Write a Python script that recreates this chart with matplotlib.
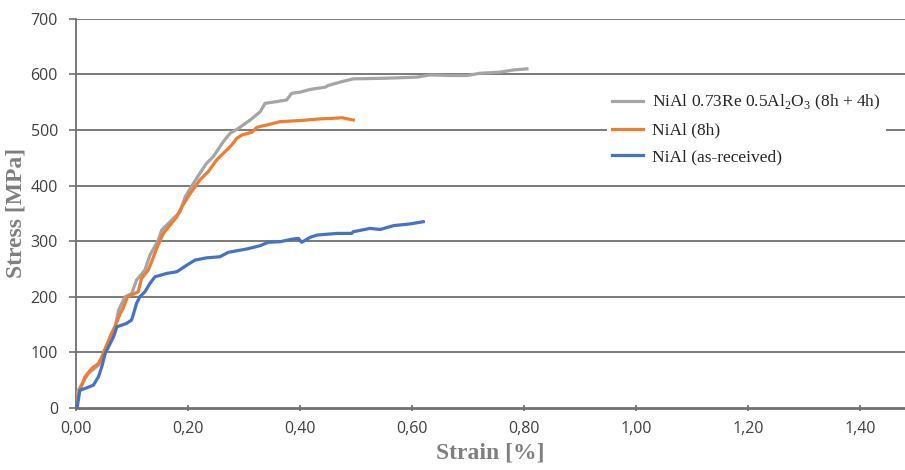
import matplotlib
matplotlib.use("Agg")
import matplotlib.pyplot as plt

# strain [%] / stress [MPa]
re_strain = [0.0, 0.001, 0.022, 0.040, 0.049, 0.061, 0.070, 0.076, 0.0875, 0.0995, 0.108,
             0.123, 0.132, 0.147, 0.153, 0.168, 0.186, 0.195, 0.204, 0.221, 0.233,
             0.245, 0.263, 0.275, 0.290, 0.311, 0.329, 0.3375, 0.358, 0.376, 0.385,
             0.400, 0.418, 0.445, 0.450, 0.471, 0.495, 0.549, 0.608, 0.632, 0.668,
             0.698, 0.721, 0.757, 0.781, 0.805]
re_stress = [18, 27, 62, 77, 92, 128, 146, 176, 200, 206, 230,
             248, 275, 302, 320, 335, 353, 380, 395, 422, 440,
             452, 479, 494, 503, 518, 533, 548, 551, 554, 566,
             568, 573, 577, 580, 586, 592, 593, 595, 599, 598,
             598, 602, 604, 608, 610]

h8_strain = [0.001, 0.007, 0.016, 0.028, 0.040, 0.046, 0.052, 0.061, 0.073, 0.079, 0.084,
             0.092, 0.111, 0.117, 0.129, 0.135, 0.144, 0.156, 0.168, 0.180, 0.189,
             0.204, 0.221, 0.236, 0.251, 0.263, 0.278, 0.287, 0.296, 0.314, 0.323,
             0.341, 0.364, 0.400, 0.436, 0.459, 0.475, 0.495]
h8_stress = [14, 32, 56, 71, 80, 92, 107, 128, 155, 170, 179,
             200, 209, 233, 248, 263, 287, 314, 329, 344, 362,
             386, 410, 425, 446, 458, 473, 485, 491, 496, 505,
             509, 515, 517, 520, 521, 522, 518]

ar_strain = [0.002, 0.004, 0.007, 0.016, 0.031, 0.040, 0.046, 0.052, 0.061, 0.067, 0.073,
             0.090, 0.099, 0.102, 0.108, 0.114, 0.123, 0.132, 0.141, 0.162, 0.180,
             0.198, 0.2125, 0.233, 0.257, 0.272, 0.305, 0.329, 0.343, 0.364, 0.388,
             0.397, 0.403, 0.418, 0.430, 0.466, 0.492, 0.495, 0.525, 0.543, 0.567,
             0.596, 0.620]
ar_stress = [0, 14, 32, 35, 41, 56, 74, 98, 116, 128, 146,
             152, 158, 167, 188, 200, 209, 224, 236, 242, 245,
             257, 266, 270, 272, 280, 286, 292, 298, 299, 304,
             305, 298, 307, 311, 314, 314, 317, 323, 321, 328,
             331, 335]

labels = [r"NiAl 0.73Re 0.5Al$_\mathregular{2}$O$_\mathregular{3}$ (8h + 4h)",
          "NiAl (8h)", "NiAl (as-received)"]
colors = ["#A5A5A5", "#ED7D31", "#4472C4"]

x_ticks = [0.0, 0.2, 0.4, 0.6, 0.8, 1.0, 1.2, 1.4]
y_ticks = [0, 100, 200, 300, 400, 500, 600, 700]

fig = plt.figure(figsize=(9.05, 4.7), dpi=100)
ax = fig.add_axes([0.084, 0.132, 0.916, 0.828])

grid_c = "#707070"
for y in y_ticks[1:]:
    ax.axhline(y, color=grid_c, lw=1.3, zorder=1)

for xs, ys, c, lab in zip([re_strain, h8_strain, ar_strain],
                          [re_stress, h8_stress, ar_stress], colors, labels):
    ax.plot(xs, ys, color=c, lw=2.3, label=lab, zorder=3)

ax.set_xlim(0, 1.48)
ax.set_ylim(0, 700)
ax.set_xticks(x_ticks)
ax.set_yticks(y_ticks)
ax.set_xticklabels([f"{v:.2f}".replace(".", ",") for v in x_ticks])
ax.tick_params(axis="both", labelsize=11.5, labelcolor="#404040", color=grid_c,
               length=5, width=1.2)
ax.tick_params(axis="y", pad=8)
ax.tick_params(axis="x", pad=7, direction="inout")
for lbl in ax.get_xticklabels() + ax.get_yticklabels():
    lbl.set_fontfamily("Open Sans")

for s in ["top", "right"]:
    ax.spines[s].set_visible(False)
ax.spines["left"].set_color(grid_c)
ax.spines["bottom"].set_color(grid_c)
ax.spines["left"].set_linewidth(1.3)
ax.spines["bottom"].set_linewidth(2.0)

ax.set_xlabel("Strain [%]", fontfamily="Liberation Serif", fontweight="bold",
              fontsize=17, color="#7F7F7F", labelpad=4)
ax.set_ylabel("Stress [MPa]", fontfamily="Liberation Serif", fontweight="bold",
              fontsize=17, color="#7F7F7F", labelpad=3)

leg = ax.legend(loc="upper left", bbox_to_anchor=(0.63, 0.845), frameon=True,
                prop={"family": "Liberation Serif", "size": 12.5}, handlelength=1.8,
                labelspacing=0.6, borderpad=0.3, handletextpad=0.5)
leg.get_frame().set_facecolor("white")
leg.get_frame().set_edgecolor("none")
leg.get_frame().set_alpha(1.0)
leg.set_zorder(5)
for t in leg.get_texts():
    t.set_color("#262626")

fig.savefig("out.png", dpi=100)
